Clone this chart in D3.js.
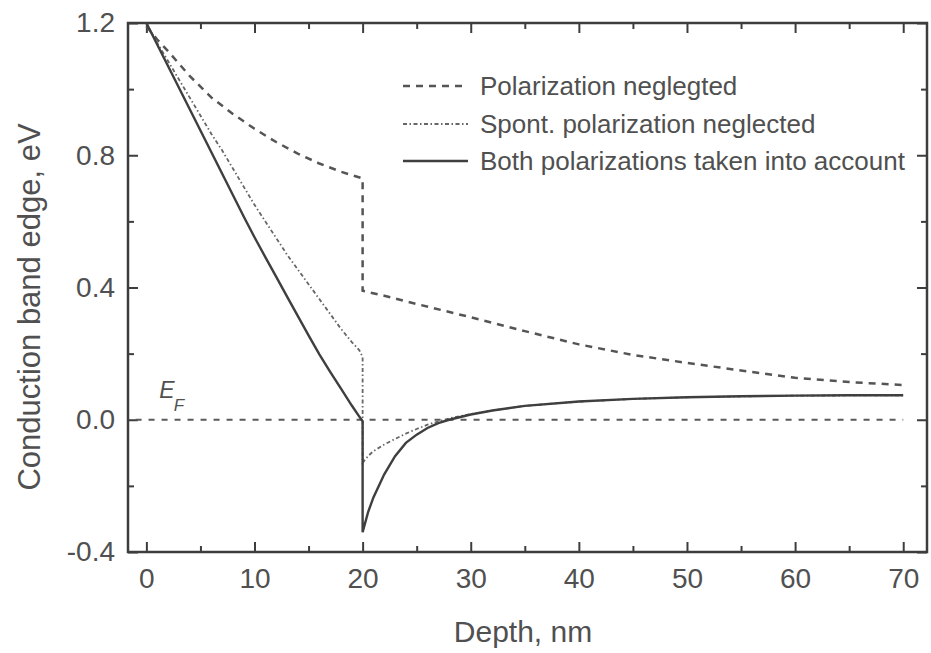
<!DOCTYPE html>
<html>
<head>
<meta charset="utf-8">
<script src="https://cdn.jsdelivr.net/npm/d3@7"></script>
<style>
  body { margin: 0; background: #fff; }
  text { font-family: "Liberation Sans", Arial, sans-serif; fill: #505050; }
</style>
</head>
<body>
<div id="chart"></div>
<script>
// data (depth in nm, band edge in eV)
var polX = [0, 1, 2, 4, 6, 8, 10, 12, 14, 16, 18, 20, 20, 22, 25, 30, 35, 40, 45, 50, 55, 60, 65, 70];
var polY = [1.19, 1.15, 1.115, 1.04, 0.975, 0.925, 0.88, 0.84, 0.805, 0.775, 0.75, 0.73, 0.39, 0.375, 0.35, 0.31, 0.268, 0.228, 0.196, 0.172, 0.149, 0.127, 0.114, 0.105];

var spontX = [0, 1, 2, 3, 4, 5, 6, 7, 8, 9, 10, 11, 12, 13, 14, 15, 16, 17, 18, 19, 19.7, 20, 20, 20.5, 21, 22, 23, 24, 25, 26, 27, 28, 29, 30, 32, 35, 40, 45, 50, 60, 70];
var spontY = [1.2, 1.14, 1.085, 1.03, 0.975, 0.92, 0.865, 0.815, 0.76, 0.705, 0.65, 0.6, 0.55, 0.5, 0.455, 0.41, 0.365, 0.32, 0.275, 0.235, 0.21, 0.19, -0.13, -0.11, -0.095, -0.075, -0.058, -0.042, -0.028, -0.015, -0.005, 0.004, 0.011, 0.017, 0.028, 0.042, 0.055, 0.063, 0.068, 0.073, 0.074];

var bothX = [0, 1, 2, 3, 4, 5, 6, 7, 8, 9, 10, 11, 12, 13, 14, 15, 16, 17, 18, 19, 19.6, 20, 20, 20.5, 21, 22, 23, 24, 25, 26, 27, 28, 30, 32, 35, 40, 45, 50, 55, 60, 65, 70];
var bothY = [1.2, 1.135, 1.07, 1.005, 0.94, 0.875, 0.81, 0.745, 0.68, 0.615, 0.552, 0.492, 0.433, 0.373, 0.314, 0.255, 0.198, 0.145, 0.094, 0.043, 0.014, -0.005, -0.34, -0.28, -0.235, -0.165, -0.11, -0.07, -0.045, -0.025, -0.01, 0.0, 0.016, 0.028, 0.042, 0.055, 0.063, 0.068, 0.071, 0.073, 0.074, 0.074];

var efX = [-1, 70];
var efY = [0, 0];

var xTicks = [0, 10, 20, 30, 40, 50, 60, 70];
var xMinor = [5, 15, 25, 35, 45, 55, 65];
var yTicks = [-0.4, 0.0, 0.4, 0.8, 1.2];
var yMinor = [-0.2, 0.2, 0.6, 1.0];

var legendLabels = ["Polarization neglegted", "Spont. polarization neglected", "Both polarizations taken into account"];

// set the dimensions of the graph
var width = 931,
    height = 653,
    plotLeft = 128, plotRight = 927, plotTop = 23, plotBottom = 552;

var svg = d3.select("#chart")
    .append("svg")
    .attr("width", width)
    .attr("height", height);

var x = d3.scaleLinear()
    .domain([-1.7, 72.2])
    .range([plotLeft, plotRight]);

var y = d3.scaleLinear()
    .domain([-0.4, 1.2])
    .range([plotBottom, plotTop]);

// axes, ticks pointing inward
var axisColor = "#3d3d3d";

function styleAxis(g) {
    g.select(".domain").remove();
    g.selectAll("line").attr("stroke", axisColor).attr("stroke-width", 2);
    g.selectAll("text").style("font-size", "28px").attr("fill", "#505050");
}

svg.append("g")
    .attr("transform", "translate(0," + plotBottom + ")")
    .call(d3.axisBottom(x).tickValues(xTicks).tickSizeInner(-10).tickSizeOuter(0).tickPadding(16).tickFormat(function(d) { return String(d); }))
    .call(styleAxis);
svg.append("g")
    .attr("transform", "translate(0," + plotBottom + ")")
    .call(d3.axisBottom(x).tickValues(xMinor).tickSizeInner(-6).tickSizeOuter(0).tickFormat(""))
    .call(styleAxis);

svg.append("g")
    .attr("transform", "translate(0," + plotTop + ")")
    .call(d3.axisTop(x).tickValues(xTicks).tickSizeInner(-10).tickSizeOuter(0).tickFormat(""))
    .call(styleAxis);
svg.append("g")
    .attr("transform", "translate(0," + plotTop + ")")
    .call(d3.axisTop(x).tickValues(xMinor).tickSizeInner(-6).tickSizeOuter(0).tickFormat(""))
    .call(styleAxis);

svg.append("g")
    .attr("transform", "translate(" + plotLeft + ",0)")
    .call(d3.axisLeft(y).tickValues(yTicks).tickSizeInner(-10).tickSizeOuter(0).tickPadding(13).tickFormat(function(d) { return d.toFixed(1); }))
    .call(styleAxis);
svg.append("g")
    .attr("transform", "translate(" + plotLeft + ",0)")
    .call(d3.axisLeft(y).tickValues(yMinor).tickSizeInner(-6).tickSizeOuter(0).tickFormat(""))
    .call(styleAxis);

svg.append("g")
    .attr("transform", "translate(" + plotRight + ",0)")
    .call(d3.axisRight(y).tickValues(yTicks).tickSizeInner(-10).tickSizeOuter(0).tickFormat(""))
    .call(styleAxis);
svg.append("g")
    .attr("transform", "translate(" + plotRight + ",0)")
    .call(d3.axisRight(y).tickValues(yMinor).tickSizeInner(-6).tickSizeOuter(0).tickFormat(""))
    .call(styleAxis);

// frame
svg.append("rect")
    .attr("x", plotLeft)
    .attr("y", plotTop)
    .attr("width", plotRight - plotLeft)
    .attr("height", plotBottom - plotTop)
    .attr("fill", "none")
    .attr("stroke", axisColor)
    .attr("stroke-width", 2.5);

// curves
var line = d3.line()
    .x(function(d) { return x(d[0]); })
    .y(function(d) { return y(d[1]); });

function pairs(xs, ys) {
    return xs.map(function(v, i) { return [v, ys[i]]; });
}

var series = [
    {name: "ef", data: pairs(efX, efY), stroke: "#5a5a5a", width: 2, dash: "6,7"},
    {name: "pol", data: pairs(polX, polY), stroke: "#555", width: 2.5, dash: "7,6"},
    {name: "spont", data: pairs(spontX, spontY), stroke: "#666", width: 1.8, dash: "4,2.5,1.5,2.5"},
    {name: "both", data: pairs(bothX, bothY), stroke: "#3f3f3f", width: 2.4, dash: null}
];

svg.selectAll("path.curve")
    .data(series)
    .enter()
    .append("path")
    .attr("class", "curve")
    .attr("d", function(d) { return line(d.data); })
    .attr("fill", "none")
    .attr("stroke", function(d) { return d.stroke; })
    .attr("stroke-width", function(d) { return d.width; })
    .attr("stroke-dasharray", function(d) { return d.dash; });

// E_F label
var ef = svg.append("text")
    .attr("x", x(1.2))
    .attr("y", y(0.065))
    .style("font-size", "23px")
    .style("font-style", "italic");
ef.append("tspan").text("E");
ef.append("tspan")
    .attr("dy", 13)
    .attr("dx", -1)
    .style("font-size", "17px")
    .text("F");

// legend
var legendStyles = series.slice(1);
var legend = svg.selectAll("g.legend")
    .data(legendLabels)
    .enter()
    .append("g")
    .attr("class", "legend")
    .attr("transform", function(d, i) { return "translate(403," + [86, 124, 161][i] + ")"; });

legend.append("line")
    .attr("x1", 0)
    .attr("x2", 65)
    .attr("stroke", function(d, i) { return legendStyles[i].stroke; })
    .attr("stroke-width", function(d, i) { return legendStyles[i].width; })
    .attr("stroke-dasharray", function(d, i) { return legendStyles[i].dash; });

legend.append("text")
    .attr("x", 77)
    .attr("dy", "0.35em")
    .style("font-size", "26px")
    .text(function(d) { return d; });

// axis titles
svg.append("text")
    .attr("x", 523)
    .attr("y", 642)
    .style("text-anchor", "middle")
    .style("font-size", "30px")
    .text("Depth, nm");

svg.append("text")
    .attr("transform", "translate(40,307) rotate(-90)")
    .style("text-anchor", "middle")
    .style("font-size", "31px")
    .text("Conduction band edge, eV");
</script>
</body>
</html>
